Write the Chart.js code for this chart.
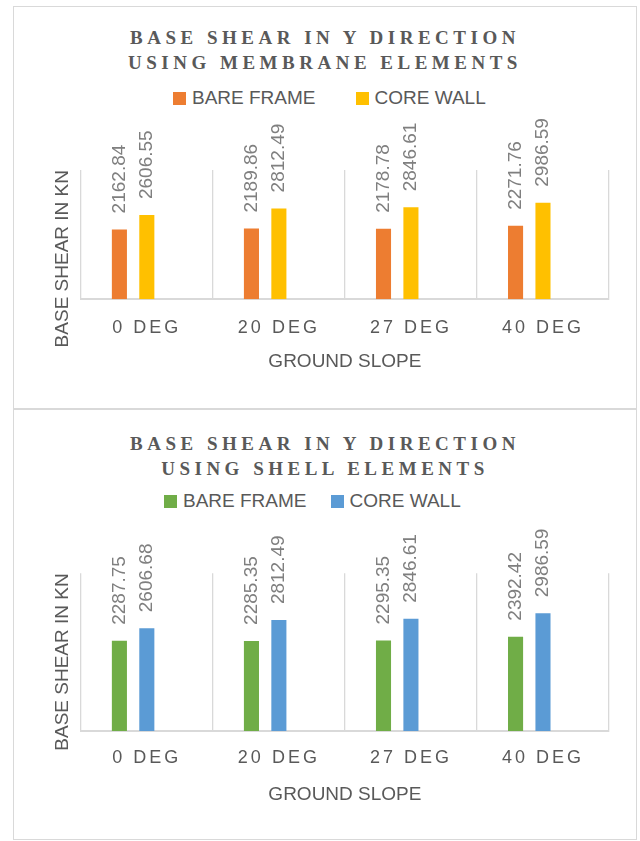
<!DOCTYPE html>
<html>
<head>
<meta charset="utf-8">
<script src="https://cdn.jsdelivr.net/npm/chart.js@4"></script>
<style>
  html, body { margin: 0; padding: 0; background: #fff; }
  body { width: 640px; height: 841px; position: relative; overflow: hidden; }
  .box { position: absolute; left: 13px; width: 624px; box-sizing: border-box; border: 1px solid #d9d9d9; background: #fff; }
  #box1 { top: 6px; height: 403px; }
  #box2 { top: 409px; height: 431px; }
  .title { position: absolute; left: 0; right: 0; text-align: center; font: bold 19px/25px "Liberation Serif", "Times New Roman", serif; letter-spacing: 4.5px; color: #595959; }
  .legend { position: absolute; top: 80px; display: flex; align-items: center; font: 19px/22px "Liberation Sans", Arial, sans-serif; color: #595959; }
  .legend .item { display: flex; align-items: center; }
  .legend .swatch { width: 13px; height: 13px; margin-right: 6px; }
  canvas { position: absolute; left: 0; top: 0; }
</style>
</head>
<body>
<div class="box" id="box1">
  <div class="title" style="top: 17.5px">BASE SHEAR IN Y DIRECTION<br>USING MEMBRANE ELEMENTS</div>
  <div class="legend" id="legend1" style="left: 159px; gap: 40px"></div>
  <canvas id="chart1" width="622" height="401"></canvas>
</div>
<div class="box" id="box2">
  <div class="title" style="top: 20.5px">BASE SHEAR IN Y DIRECTION<br>USING SHELL ELEMENTS</div>
  <div class="legend" id="legend2" style="left: 150px; gap: 24px"></div>
  <canvas id="chart2" width="622" height="429"></canvas>
</div>

<script>
// categories and series (base shear in kN)
const slopes = ['0 DEG', '20 DEG', '27 DEG', '40 DEG'];
const seriesNames = ['BARE FRAME', 'CORE WALL'];
const membraneBare = [2162.84, 2189.86, 2178.78, 2271.76];
const membraneCore = [2606.55, 2812.49, 2846.61, 2986.59];
const shellBare = [2287.75, 2285.35, 2295.35, 2392.42];
const shellCore = [2606.68, 2812.49, 2846.61, 2986.59];
const blankSeries = [null, null, null, null]; // empty third column of the sheet
const yMax = 4000;

const textGray = '#595959';
Chart.defaults.font.family = '"Liberation Sans", Arial, sans-serif';

// legend built as html so the item gaps can follow the original
const htmlLegend = {
  id: 'htmlLegend',
  afterUpdate(chart, args, opts) {
    const box = document.getElementById(opts.containerID);
    box.innerHTML = '';
    const items = chart.options.plugins.legend.labels.generateLabels(chart);
    items.filter(it => it.text).forEach(it => {
      const item = document.createElement('span');
      item.className = 'item';
      const sw = document.createElement('span');
      sw.className = 'swatch';
      sw.style.background = it.fillStyle;
      item.appendChild(sw);
      item.appendChild(document.createTextNode(it.text));
      box.appendChild(item);
    });
  }
};

// vertical value labels above the bars
const barValues = {
  id: 'barValues',
  afterDatasetsDraw(chart) {
    const ctx = chart.ctx;
    ctx.save();
    ctx.font = '19px "Liberation Sans", Arial, sans-serif';
    ctx.fillStyle = '#7f7f7f';
    ctx.textAlign = 'left';
    ctx.textBaseline = 'middle';
    chart.data.datasets.forEach((ds, i) => {
      chart.getDatasetMeta(i).data.forEach((bar, j) => {
        const v = ds.data[j];
        if (v == null) return;
        ctx.save();
        ctx.translate(bar.x, bar.y - 16);
        ctx.rotate(-Math.PI / 2);
        ctx.fillText(v.toFixed(2), 0, 0);
        ctx.restore();
      });
    });
    ctx.restore();
    // category labels (ticks z = 1) are drawn after this point
    ctx.letterSpacing = '3px';
  },
  afterDraw(chart) {
    chart.ctx.letterSpacing = '0px';
  }
};

function makeChart(canvasId, legendId, bare, core, colors, lay) {
  return new Chart(document.getElementById(canvasId), {
    type: 'bar',
    data: {
      labels: slopes,
      datasets: [
        { label: seriesNames[0], data: bare, backgroundColor: colors[0] },
        { label: seriesNames[1], data: core, backgroundColor: colors[1] },
        { label: '', data: blankSeries, backgroundColor: 'transparent' }
      ]
    },
    options: {
      responsive: false,
      animation: false,
      datasets: { bar: { categoryPercentage: 0.623, barPercentage: 0.55 } },
      layout: { padding: { top: lay.top, left: 37, right: 27, bottom: lay.bottom } },
      scales: {
        x: {
          grid: { color: '#d9d9d9', lineWidth: 1.3, drawTicks: true, tickLength: lay.tickLen, tickColor: 'transparent' },
          border: { color: '#d9d9d9', width: 2 },
          ticks: { color: textGray, font: { size: 18 }, padding: 0, autoSkip: false, maxRotation: 0, z: 1 },
          title: { display: true, text: 'GROUND SLOPE', color: textGray, font: { size: 19 }, padding: { top: lay.titleTop, bottom: 0 } }
        },
        y: {
          min: 0,
          max: yMax,
          grid: { display: false, drawTicks: false },
          border: { display: false },
          ticks: { display: false },
          title: { display: true, text: 'BASE SHEAR IN KN', align: 'end', color: textGray, font: { size: 19 }, padding: { top: 0, bottom: 7 } }
        }
      },
      plugins: {
        legend: { display: false },
        tooltip: { enabled: false },
        htmlLegend: { containerID: legendId }
      }
    },
    plugins: [htmlLegend, barValues]
  });
}

makeChart('chart1', 'legend1', membraneBare, membraneCore, ['#ED7D31', '#FFC000'],
  { top: 163, bottom: 34.9, tickLen: 17.9, titleTop: 11.5 });
makeChart('chart2', 'legend2', shellBare, shellCore, ['#70AD47', '#5B9BD5'],
  { top: 163.3, bottom: 32.6, tickLen: 16.5, titleTop: 14.5 });
</script>
</body>
</html>
